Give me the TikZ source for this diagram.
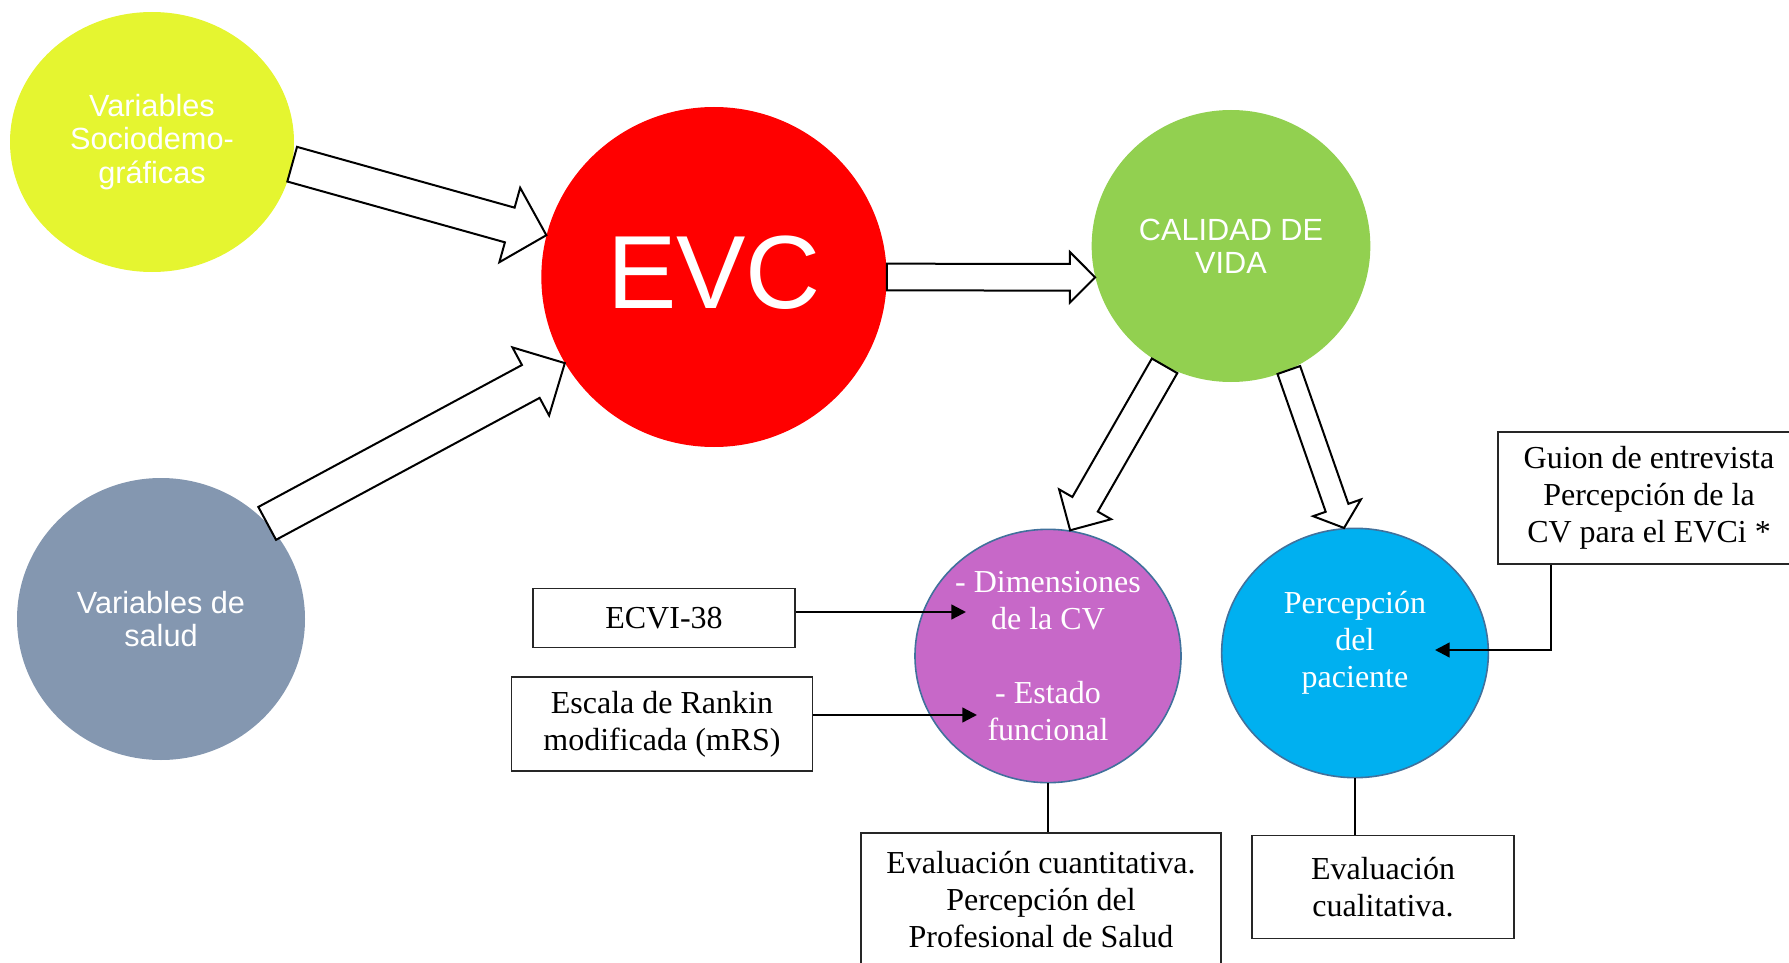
\documentclass[tikz,border=0pt]{standalone}
\usepackage{fontspec}
\setmainfont{Liberation Serif}
\newfontfamily\arialfont{Liberation Sans}
\usetikzlibrary{arrows.meta,calc,shapes.geometric}

\definecolor{socyellow}{HTML}{E5F530}
\definecolor{evcred}{HTML}{FF0000}
\definecolor{cvgreen}{HTML}{92D050}
\definecolor{saludgray}{HTML}{8497B0}
\definecolor{dimpurple}{HTML}{C768C8}
\definecolor{percblue}{HTML}{00B0F0}
\definecolor{rimblue}{HTML}{41719C}

\newcommand{\fatarrow}[5]{%
  \coordinate (hb) at ($(#2)!#5!(#1)$);
  \draw[fat arrow] ($(#1)!#3!90:(#2)$) -- ($(hb)!#3!90:(#2)$) -- ($(hb)!#4!90:(#2)$) -- (#2)
    -- ($(hb)!#4!-90:(#2)$) -- ($(hb)!#3!-90:(#2)$) -- ($(#1)!#3!-90:(#2)$) -- cycle;}

\begin{document}
\begin{tikzpicture}[x=.75pt,y=-.75pt,>={Triangle[length=11pt,width=11pt]},
    circ node/.style={ellipse,inner sep=0pt,text=white,align=center,
      font=\arialfont\fontsize{23}{25}\selectfont},
    rim node/.style={circ node,draw=rimblue,line width=1.2pt,
      font=\fontsize{24}{27.75}\selectfont},
    box node/.style={draw=black!85,line width=.8pt,inner sep=0pt,align=center,
      font=\fontsize{24}{27.75}\selectfont},
    fat arrow/.style={draw,line width=1.5pt,fill=white,line join=miter},
    thin arrow/.style={->,line width=1.8pt}]

  \useasboundingbox (0,0) rectangle (1789,963);

  \node[circ node,fill=socyellow,minimum width=213pt,minimum height=195pt] (soc) at (152,142) {Variables\\Sociodemo-\\gráficas};
  \node[circ node,fill=evcred,minimum width=259pt,minimum height=255pt,
    font=\arialfont\fontsize{78}{80}\selectfont,text height=57pt,text depth=10pt] (evc) at (714,277) {EVC};
  \node[circ node,fill=cvgreen,minimum width=209pt,minimum height=204pt] (cv) at (1231,246) {CALIDAD DE\\VIDA};
  \node[circ node,fill=saludgray,minimum width=216pt,minimum height=211.5pt] (salud) at (161,619) {Variables de\\salud};
  \node[rim node,fill=dimpurple,minimum width=199.5pt,minimum height=190pt] (dim) at (1048,656) {- Dimensiones\\de la CV\\[27.75pt]- Estado\\funcional};
  \node[rim node,fill=percblue,minimum width=200pt,minimum height=187pt,text depth=20pt] (perc) at (1355,653) {Percepción\\del\\paciente};

  \node[box node,minimum width=196.5pt,minimum height=44.25pt] (ecvi) at (664,618) {ECVI-38};
  \node[box node,minimum width=225.75pt,minimum height=70.5pt] (rankin) at (662,724) {Escala de Rankin\\modificada (mRS)};
  \node[box node,minimum width=226.5pt,minimum height=99pt] (guion) at (1649,498) {Guion de entrevista\\Percepción de la\\CV para el EVCi *};
  \node[box node,minimum width=270pt,minimum height=100.5pt] (cuanti) at (1041,900) {Evaluación cuantitativa.\\Percepción del\\Profesional de Salud};
  \node[box node,minimum width=196.5pt,minimum height=77.25pt] (cuali) at (1383,887) {Evaluación\\cualitativa.};

  \fatarrow{soc.-9}{evc.166}{13.5pt}{29pt}{28.5pt}
  \fatarrow{salud.42}{evc.210}{14pt}{29pt}{29pt}
  \fatarrow{evc.0}{cv.193}{10pt}{19pt}{19pt}
  \fatarrow{cv.-119}{dim.80}{11pt}{22.5pt}{22.5pt}
  \fatarrow{cv.-65}{perc.95}{9pt}{19pt}{16pt}

  \coordinate (dimtip) at (966,612);
  \coordinate (esttip) at (977,715);
  \coordinate (perctip) at (1435,650);
  \draw[thin arrow] (ecvi.east |- dimtip) -- (dimtip);
  \draw[thin arrow] (rankin.east |- esttip) -- (esttip);
  \draw[thin arrow] ([xshift=-73.5pt]guion.south) |- (perctip);
  \draw[line width=.8pt] (dim.south) -- (dim.south |- cuanti.north);
  \draw[line width=.8pt] (perc.south) -- (perc.south |- cuali.north);
\end{tikzpicture}
\end{document}
